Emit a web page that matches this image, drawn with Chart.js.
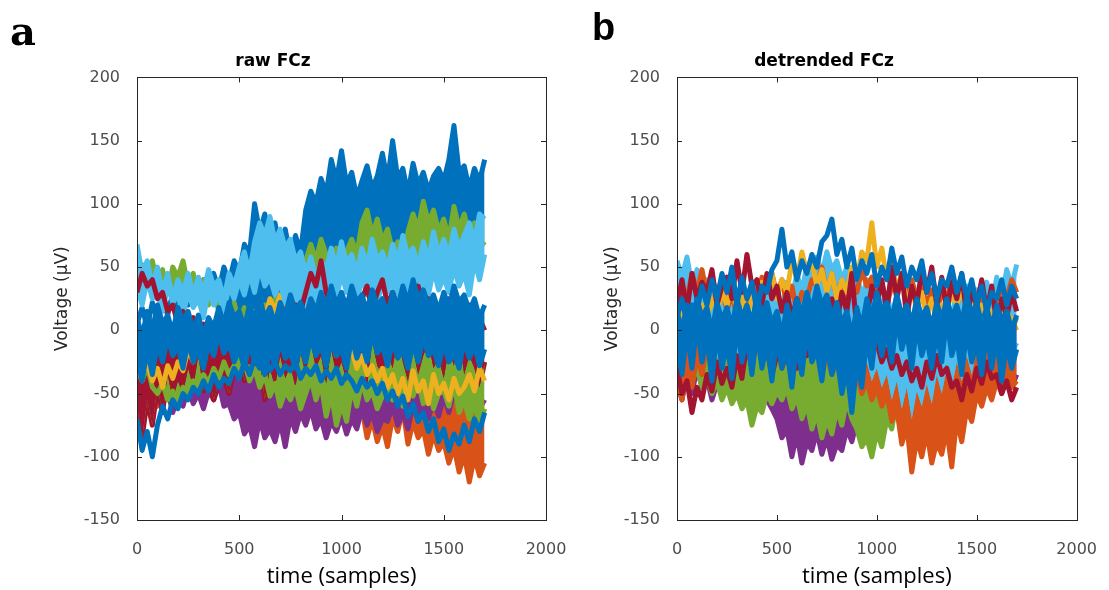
<!DOCTYPE html>
<html>
<head>
<meta charset="utf-8">
<script src="https://cdn.jsdelivr.net/npm/chart.js@4.4.0/dist/chart.umd.min.js"></script>
<style>
  body { margin: 0; background: #fff; width: 1109px; height: 590px; position: relative; overflow: hidden; }
  canvas { position: absolute; top: 0; }
  #chartA { left: 0; }
  #chartB { left: 560px; }
  .tag { position: absolute; font-weight: bold; color: #000; line-height: 1; z-index: 2; }
  #tagA { left: 10px; top: 7px; font: bold 40px "DejaVu Serif"; }
  #tagB { left: 592px; top: 6px; font: bold 38px "Liberation Sans"; }
</style>
</head>
<body>
<div class="tag" id="tagA">a</div>
<div class="tag" id="tagB">b</div>
<canvas id="chartA" width="580" height="590"></canvas>
<canvas id="chartB" width="549" height="590"></canvas>
<script>
// time axis (samples), one value every 25 samples
const samples = [0,25,50,75,100,125,150,175,200,225,250,275,300,325,350,375,400,425,450,475,
  500,525,550,575,600,625,650,675,700,725,750,775,800,825,850,875,900,925,950,975,
  1000,1025,1050,1075,1100,1125,1150,1175,1200,1225,1250,1275,1300,1325,1350,1375,1400,1425,1450,1475,
  1500,1525,1550,1575,1600,1625,1650,1675,1700];

const xTicks = [0, 500, 1000, 1500, 2000];
const yTicks = [-150, -100, -50, 0, 50, 100, 150, 200];

// ---- panel a: raw FCz
const rawLightBlueHigh = [68,45,55,35,50,30,45,25,40,30, 45,28,42,30,48,35,40,25,45,35,
  50,62,45,70,85,75,90,70,80,65, 72,55,62,45,58,40,55,48,65,50, 70,52,60,45,65,50,72,55,62,48,
  68,55,75,58,65,50,70,55,78,60, 72,58,80,65,75,85,70,92,88];
const rawBlueHigh = [5,18,2,22,8,25,12,30,15,28, 20,35,22,40,28,45,32,50,38,55,
  45,68,60,100,78,92,70,85,62,80, 58,75,62,95,110,100,120,108,135,118, 142,115,125,105,118,130,112,122,140,118,
  150,120,128,108,132,115,125,110,122,128, 118,135,162,125,130,112,128,118,135];
const rawGreenHigh = [40,52,35,55,38,48,30,50,42,55, 35,45,28,40,20,32,15,25,10,22,
  5,18,0,15,8,20,12,25,15,30, 28,45,40,55,68,55,72,60,50,65, 55,62,72,60,85,95,75,88,70,80,
  62,70,55,78,92,80,102,85,95,78, 88,72,98,80,92,75,85,65,70];
const rawOrange = [-45,-38,-55,-42,-60,-48,-35,-50,-40,-55, -42,-50,-38,-45,-30,-42,-25,-38,-30,-45,
  -35,-48,-28,-40,-22,-35,-30,-45,-38,-50, -42,-55,-45,-60,-50,-65,-55,-62,-48,-58, -52,-65,-58,-72,-62,-85,-70,-88,-75,-92,
  -68,-80,-62,-90,-72,-85,-78,-98,-82,-95, -88,-105,-92,-112,-98,-120,-100,-115,-105];
const rawPurple = [-50,-62,-45,-58,-40,-55,-48,-65,-52,-60, -45,-58,-50,-62,-48,-55,-42,-60,-58,-70,
  -65,-82,-75,-92,-70,-85,-78,-88,-72,-92, -68,-80,-65,-75,-62,-78,-70,-85,-72,-80, -68,-82,-70,-78,-62,-75,-65,-80,-70,-72,
  -60,-75,-65,-78,-58,-72,-62,-70,-55,-68, -52,-65,-48,-60,-42,-58,-50,-62,-55];
const rawGreenLow = [-30,-40,-28,-45,-50,-42,-55,-48,-60,-45, -52,-40,-48,-35,-42,-30,-38,-25,-35,-28,
  -32,-25,-40,-30,-45,-35,-52,-42,-60,-48, -55,-45,-62,-50,-38,-55,-42,-68,-50,-75, -58,-72,-45,-60,-40,-55,-48,-62,-52,-45,
  -55,-42,-60,-48,-52,-40,-58,-45,-62,-50, -48,-60,-42,-65,-55,-70,-58,-75,-62];
const rawRedLow = [-60,-85,-55,-75,-45,-65,-35,-55,-40,-50, -30,-45,-20,-48,-35,-55,-42,-38,-50,-30,
  -15,-40,-10,-35,-22,-55,-30,-45,-20,-38, -28,-45,-18,-35,-10,-30,-20,-42,-15,-35, -25,-40,-12,-30,-22,-45,-8,-28,-35,-18,
  -30,-5,-25,-40,-15,-35,-20,-10,-30,-22, -38,-15,-28,-5,-35,-20,-30,-45,-25];
const rawYellow = [-20,-35,-25,-40,-30,-45,-28,-38,-25,-32, -15,-25,-10,-20,-5,-15,0,-10,5,-5,
  10,0,15,5,18,8,25,15,28,12, 20,5,15,-5,8,-10,0,-15,-5,-20, -10,-25,-15,-30,-20,-35,-28,-40,-30,-45,
  -35,-50,-38,-55,-32,-48,-40,-58,-35,-50, -42,-55,-38,-50,-45,-35,-48,-30,-40];
const rawLightBlueMid = [35,20,40,25,30,15,35,22,28,12, 30,18,25,10,32,20,28,15,35,25,
  40,28,45,30,50,35,42,28,38,22, 35,20,30,15,28,22,35,18,40,25, 45,30,38,22,42,28,35,20,40,30,
  38,25,45,30,40,22,35,28,48,32, 42,30,50,35,45,28,55,40,60];
const rawRedMid = [30,45,35,40,25,30,15,20,5,15, 0,10,-5,5,-10,0,-15,-5,-20,-8,
  -15,-5,-25,-10,-5,5,-8,10,0,15, 5,20,15,30,45,35,55,30,20,10, 15,5,20,10,25,35,15,30,40,20,
  30,15,25,10,20,35,15,25,5,20, 10,25,0,15,5,20,-5,10,0];
const rawBlueMid = [10,-5,15,0,20,5,12,-2,18,8, 15,0,12,-5,10,2,18,5,22,10,
  15,2,20,8,25,10,18,5,22,12, 28,15,22,10,25,15,30,18,35,20, 30,18,35,22,28,15,32,20,25,12,
  30,18,35,22,40,25,32,20,28,15, 30,18,35,22,28,15,25,10,20];
const rawBlueCentre = [-20,-40,-15,-35,-10,-25,-5,-20,-12,-30, -8,-25,-15,-30,-10,-20,-2,-18,-10,-25,
  -15,-30,-10,-25,-20,-35,-15,-28,-8,-22, -18,-30,-10,-25,-5,-20,-12,-28,-8,-20, -15,-30,-5,-22,-10,-25,-2,-18,-12,-28,
  -8,-22,-15,-30,-10,-25,-5,-20,-15,-28, -10,-25,-18,-30,-8,-22,-12,-28,-15];
const rawBlueLow = [-70,-95,-80,-100,-75,-60,-70,-55,-62,-50, -55,-45,-50,-40,-48,-35,-45,-38,-42,-30,
  -38,-25,-35,-22,-30,-20,-32,-25,-35,-28, -32,-25,-38,-30,-35,-28,-40,-32,-38,-30, -42,-35,-40,-48,-38,-45,-40,-50,-42,-55,
  -48,-60,-52,-68,-58,-72,-65,-80,-70,-88, -78,-95,-82,-90,-75,-88,-70,-80,-65];

// ---- panel b: detrended FCz
const detLightBlueHigh = [55,42,58,35,48,25,40,20,35,15, 30,10,25,5,20,0,28,15,35,20,
  30,15,38,25,45,30,52,40,58,45, 62,48,55,40,50,30,45,25,40,20, 35,15,30,10,28,5,22,0,18,-5,
  15,0,20,5,25,10,30,15,35,20, 32,15,38,20,42,25,48,35,52];
const detOrangeHigh = [20,35,25,45,30,48,28,40,22,35, 15,30,10,25,20,38,25,42,30,45,
  28,40,20,35,15,30,25,40,35,50, 30,45,25,40,20,35,30,48,35,42, 25,38,20,35,30,45,28,40,25,35,
  20,32,15,30,25,40,22,35,18,30, 10,25,15,30,20,35,25,40,30];
const detYellow = [0,15,-5,10,5,20,10,25,15,30, 20,35,15,28,10,25,20,38,30,45,
  25,40,30,55,40,62,45,55,35,48, 30,45,25,40,30,50,40,62,55,85, 50,65,40,55,30,45,20,35,15,30,
  10,25,5,20,15,30,20,35,10,25, 5,20,0,15,10,25,-5,10,0];
const detRedHigh = [20,40,15,45,25,38,30,48,20,35, 42,25,55,30,60,35,40,20,45,25,
  35,15,30,10,25,5,20,0,15,-5, 10,25,5,30,15,45,0,-20,10,35, 20,40,15,50,25,45,10,35,20,48,
  30,50,20,42,15,38,25,45,10,30, 20,40,15,35,5,25,10,30,15];
const detPurple = [-40,-55,-35,-50,-30,-45,-38,-55,-42,-50, -35,-48,-40,-52,-38,-45,-42,-50,-55,-62,
  -70,-85,-78,-100,-82,-105,-88,-95,-80,-98, -85,-102,-90,-95,-78,-88,-72,-82,-65,-75, -60,-55,-48,-52,-40,-45,-35,-42,-38,-48,
  -35,-42,-30,-38,-25,-35,-30,-40,-28,-35, -30,-38,-25,-35,-28,-40,-32,-45,-35];
const detGreen = [-20,-35,-25,-40,-30,-45,-35,-50,-40,-55, -45,-58,-50,-62,-55,-75,-60,-65,-50,-58,
  -48,-55,-45,-62,-52,-70,-58,-78,-65,-85, -70,-82,-62,-75,-55,-70,-78,-92,-85,-100, -80,-92,-70,-78,-55,-65,-40,-50,-30,-42,
  -25,-38,-20,-32,-15,-28,-10,-25,-5,-20, 0,-15,5,-10,10,-5,15,0,10];
const detOrangeLow = [-40,-55,-30,-45,-20,-35,-10,-25,0,-15, 5,-10,10,-5,0,-15,-5,-20,-10,-25,
  -15,-30,-20,-35,-10,-25,-5,-20,-15,-30, -20,-35,-25,-40,-30,-45,-35,-50,-40,-55, -45,-60,-50,-72,-62,-90,-75,-112,-85,-100,
  -80,-105,-88,-98,-78,-108,-70,-88,-62,-72, -50,-60,-45,-55,-40,-50,-35,-45,-40];
const detLightBlueLow = [-10,-25,-5,-20,0,-15,-8,-22,-12,-28, -5,-20,-10,-25,-15,-30,-8,-22,-12,-18,
  -5,-20,0,-15,-10,-25,-5,-18,-12,-28, -15,-30,-10,-25,-18,-35,-20,-32,-25,-40, -30,-45,-35,-55,-40,-62,-45,-70,-48,-60,
  -42,-58,-35,-50,-30,-45,-25,-40,-20,-35, -15,-30,-10,-25,-8,-20,-5,-18,-10];
const detRedLow = [-30,-50,-40,-65,-45,-55,-35,-48,-25,-42, -30,-45,-20,-38,-10,-30,-5,-25,-15,-35,
  -20,-5,-25,-10,-30,-15,-20,0,-10,5, -5,10,0,-15,-10,-25,-5,-20,0,-15, -10,-25,-15,-30,-20,-35,-25,-40,-30,-45,
  -25,-38,-20,-35,-30,-45,-40,-55,-35,-48, -30,-42,-25,-38,-35,-50,-40,-55,-45];
const detBlueHigh = [10,25,5,20,15,35,20,40,25,45, 30,50,20,42,25,38,15,35,30,48,
  55,80,50,62,40,55,45,60,50,70, 75,88,60,72,50,65,40,55,45,60, 35,50,40,65,45,58,35,50,40,55,
  30,45,25,40,35,50,30,45,25,40, 20,35,15,30,25,40,20,35,25];
const detBlueMid = [15,0,20,5,25,10,18,-2,22,8, 18,2,25,10,20,5,28,12,22,5,
  15,-5,20,5,25,12,30,15,35,20, 28,10,22,5,15,-5,18,2,25,10, 30,15,22,8,28,12,20,5,25,10,
  18,2,22,8,25,10,20,5,28,12, 22,5,18,2,20,8,15,0,12];
const detBlueCentre = [-10,-35,0,-30,5,-25,-5,-40,0,-30, -10,-38,5,-25,-5,-35,0,-30,-10,-40,
  -5,-30,-15,-45,-10,-35,0,-25,-15,-40, -10,-35,-20,-50,-30,-65,-25,-45,-5,-30, 5,-20,0,-25,10,-15,0,-30,5,-20,
  -5,-30,0,-25,10,-20,-5,-35,0,-25, -10,-35,0,-30,-5,-40,-10,-30,-15];

// MATLAB default line colours
const C = {
  blue: '#0072BD', orange: '#D95319', yellow: '#EDB120', purple: '#7E2F8E',
  green: '#77AC30', lightBlue: '#4DBEEE', red: '#A2142F'
};

// painted bottom -> top; shadeTo/side fill the gap to another trace in the same colour
const rawTraces = [
  { values: rawBlueHigh, color: C.blue, shadeTo: rawGreenHigh, side: 'above' },
  { values: rawGreenHigh, color: C.green, shadeTo: rawLightBlueHigh, side: 'above' },
  { values: rawLightBlueHigh, color: C.lightBlue, shadeTo: rawLightBlueMid, side: 'both' },
  { values: rawOrange, color: C.orange, shadeTo: rawPurple, side: 'below' },
  { values: rawPurple, color: C.purple, shadeTo: rawGreenLow, side: 'below' },
  { values: rawRedLow, color: C.red, shadeTo: rawBlueCentre, side: 'below' },
  { values: rawGreenLow, color: C.green, shadeTo: rawRedLow, side: 'below' },
  { values: rawYellow, color: C.yellow },
  { values: rawLightBlueMid, color: C.lightBlue },
  { values: rawRedMid, color: C.red },
  { values: rawBlueMid, color: C.blue, shadeTo: rawBlueCentre, side: 'both' },
  { values: rawBlueCentre, color: C.blue },
  { values: rawBlueLow, color: C.blue }
];
const detTraces = [
  { values: detLightBlueHigh, color: C.lightBlue, shadeTo: detBlueMid, side: 'above' },
  { values: detOrangeHigh, color: C.orange },
  { values: detYellow, color: C.yellow },
  { values: detRedHigh, color: C.red },
  { values: detPurple, color: C.purple, shadeTo: detGreen, side: 'below' },
  { values: detGreen, color: C.green, shadeTo: detBlueCentre, side: 'below' },
  { values: detLightBlueLow, color: C.lightBlue, shadeTo: detBlueCentre, side: 'below' },
  { values: detOrangeLow, color: C.orange, shadeTo: detLightBlueLow, side: 'below' },
  { values: detRedLow, color: C.red },
  { values: detBlueHigh, color: C.blue },
  { values: detBlueMid, color: C.blue, shadeTo: detBlueCentre, side: 'both' },
  { values: detBlueCentre, color: C.blue }
];

const AXIS = '#262626';
const TICK_TXT = '#4d4d4d';

// MATLAB-style box with inward ticks on all four sides
const boxPlugin = {
  id: 'matlabBox',
  afterDraw(chart) {
    const { ctx, chartArea: a, scales } = chart;
    ctx.save();
    ctx.strokeStyle = AXIS;
    ctx.lineWidth = 1;
    ctx.strokeRect(Math.round(a.left) + 0.5, Math.round(a.top) + 0.5,
      Math.round(a.right - a.left), Math.round(a.bottom - a.top));
    const len = 5;
    ctx.beginPath();
    xTicks.forEach(v => {
      const x = Math.round(scales.x.getPixelForValue(v)) + 0.5;
      ctx.moveTo(x, a.top); ctx.lineTo(x, a.top + len);
      ctx.moveTo(x, a.bottom); ctx.lineTo(x, a.bottom - len);
    });
    yTicks.forEach(v => {
      const y = Math.round(scales.y.getPixelForValue(v)) + 0.5;
      ctx.moveTo(a.left, y); ctx.lineTo(a.left + len, y);
      ctx.moveTo(a.right, y); ctx.lineTo(a.right - len, y);
    });
    ctx.stroke();
    ctx.restore();
  }
};

function makePanel(id, traces, title, yAxisWidth, rightPad, yTitlePad) {
  // Chart.js paints dataset 0 on top, so reverse the bottom->top list
  const ordered = traces.slice().reverse();
  const datasets = ordered.map(t => {
    const target = t.shadeTo ? ordered.findIndex(o => o.values === t.shadeTo) : -1;
    let fill = false;
    if (target >= 0) {
      fill = {
        target,
        above: t.side === 'below' ? 'rgba(0,0,0,0)' : t.color,
        below: t.side === 'above' ? 'rgba(0,0,0,0)' : t.color
      };
    }
    return {
      data: t.values.map((v, i) => ({ x: samples[i], y: v })),
      borderColor: t.color,
      backgroundColor: t.color,
      borderWidth: 5,
      borderJoinStyle: 'round',
      borderCapStyle: 'butt',
      pointRadius: 0,
      tension: 0,
      fill
    };
  });

  return new Chart(document.getElementById(id), {
    type: 'line',
    data: { datasets },
    plugins: [boxPlugin],
    options: {
      responsive: false,
      animation: false,
      layout: { padding: { left: 0, right: rightPad, top: 0, bottom: 0 } },
      plugins: {
        legend: { display: false },
        tooltip: { enabled: false },
        filler: { drawTime: 'beforeDatasetDraw' },
        title: {
          display: true,
          text: title,
          color: '#000',
          font: { family: 'DejaVu Sans', size: 17, weight: 'bold' },
          padding: { top: 51, bottom: 6 }
        }
      },
      scales: {
        x: {
          type: 'linear',
          min: 0, max: 2000,
          afterBuildTicks: s => { s.ticks = xTicks.map(v => ({ value: v })); },
          afterFit: s => { s.height = 70; },
          grid: { display: false },
          border: { display: false },
          ticks: {
            color: TICK_TXT, font: { family: 'DejaVu Sans', size: 16 }, padding: 12, maxRotation: 0,
            callback: v => String(v)
          },
          title: {
            display: true,
            text: 'time (samples)',
            color: '#000',
            font: { family: 'Open Sans', size: 22 },
            padding: { top: 0, bottom: 0 }
          }
        },
        y: {
          type: 'linear',
          min: -150, max: 200,
          afterBuildTicks: s => { s.ticks = yTicks.map(v => ({ value: v })); },
          afterFit: s => { s.width = yAxisWidth; },
          grid: { display: false },
          border: { display: false },
          ticks: {
            color: TICK_TXT, font: { family: 'DejaVu Sans', size: 16 }, padding: 9,
            callback: v => String(v)
          },
          title: {
            display: true,
            text: 'Voltage (µV)',
            color: AXIS,
            font: { family: 'DejaVu Sans', size: 17 },
            padding: { top: yTitlePad, bottom: 0 }
          }
        }
      }
    }
  });
}

makePanel('chartA', rawTraces, 'raw FCz', 137, 34, 52);
makePanel('chartB', detTraces, 'detrended FCz', 117, 21, 42);
</script>
</body>
</html>
